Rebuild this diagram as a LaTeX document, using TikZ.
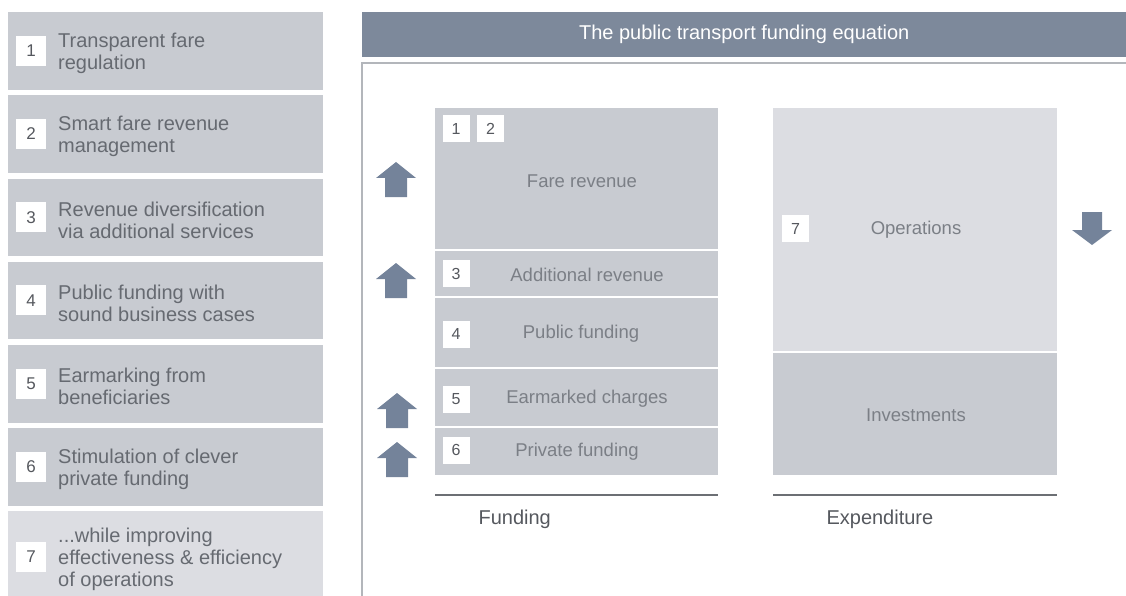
\documentclass[tikz,border=0pt]{standalone}
\usepackage{fontspec}
\setmainfont{Liberation Sans}

\definecolor{boxgray}{HTML}{C8CBD1}
\definecolor{boxlight}{HTML}{DCDDE2}
\definecolor{headblue}{HTML}{7D899B}
\definecolor{arrowblue}{HTML}{74839A}
\definecolor{textgray}{HTML}{666A71}
\definecolor{labelgray}{HTML}{7B7F86}
\definecolor{numgray}{HTML}{55585E}
\definecolor{basegray}{HTML}{6C6F74}
\definecolor{framegray}{HTML}{B3B6BB}

\begin{document}
\begin{tikzpicture}[x=1pt,y=-1pt,
  card/.style={fill=boxgray, inner sep=0pt, minimum width=315pt, minimum height=77.5pt, anchor=north west},
  cardtext/.style={anchor=west, align=left, inner sep=0pt, text=textgray, font=\fontsize{20}{22}\selectfont},
  tag/.style={fill=white, inner sep=0pt, minimum size=30pt, text=numgray, font=\fontsize{17}{17}\selectfont},
  smalltag/.style={tag, minimum size=27pt, font=\fontsize{16}{16}\selectfont},
  block/.style={fill=boxgray, inner sep=0pt, anchor=north west},
  blocktext/.style={text=labelgray, font=\fontsize{18.5}{18.5}\selectfont},
  axislabel/.style={anchor=west, text=numgray, font=\fontsize{20}{20}\selectfont}]
  \useasboundingbox (0,0) rectangle (1126,596);

  % Left column: the seven levers
  \node[card] (c1) at (8,12) {};
  \node[card] (c2) at (8,95.2) {};
  \node[card] (c3) at (8,178.4) {};
  \node[card] (c4) at (8,261.6) {};
  \node[card] (c5) at (8,344.8) {};
  \node[card] (c6) at (8,428) {};
  \node[card, fill=boxlight, minimum height=85pt] (c7) at (8,511.2) {};

  \node[tag] (n1) at (31,50.75) {1};
  \node[tag] (n2) at (31,134) {2};
  \node[tag] (n3) at (31,217.2) {3};
  \node[tag] (n4) at (31,300.4) {4};
  \node[tag] (n5) at (31,383.6) {5};
  \node[tag] (n6) at (31,466.8) {6};
  \node[tag] (n7) at (31,557) {7};

  \node[cardtext] (t1) at (58,53.5) {Transparent fare\\regulation};
  \node[cardtext] (t2) at (58,136.7) {Smart fare revenue\\management};
  \node[cardtext] (t3) at (58,219.9) {Revenue diversification\\via additional services};
  \node[cardtext] (t4) at (58,303.1) {Public funding with\\sound business cases};
  \node[cardtext] (t5) at (58,386.3) {Earmarking from\\beneficiaries};
  \node[cardtext] (t6) at (58,469.5) {Stimulation of clever\\private funding};
  \node[cardtext] (t7) at (58,559) {...while improving\\effectiveness \& efficiency\\of operations};

  % Header and panel frame
  \node[fill=headblue, inner sep=0pt, minimum width=764pt, minimum height=45pt, anchor=north west,
        text=white, font=\fontsize{20}{20}\selectfont] (head) at (362,12) {The public transport funding equation};
  \draw[framegray, line width=1.5pt] (1126,63) -- (362,63) -- (362,596);

  % Funding stack
  \node[block, minimum width=283pt, minimum height=141pt] (fare) at (435,108) {};
  \node[block, minimum width=283pt, minimum height=45pt] (addrev) at (435,251) {};
  \node[block, minimum width=283pt, minimum height=69pt] (pubfund) at (435,298) {};
  \node[block, minimum width=283pt, minimum height=57pt] (earmark) at (435,369) {};
  \node[block, minimum width=283pt, minimum height=47pt] (privfund) at (435,428) {};

  \node[smalltag] (s1) at (456,128.5) {1};
  \node[smalltag] (s2) at (490.5,128.5) {2};
  \node[smalltag] (s3) at (456,273.5) {3};
  \node[smalltag] (s4) at (456,334) {4};
  \node[smalltag] (s5) at (456,399) {5};
  \node[smalltag] (s6) at (456,450) {6};

  \node[blocktext] (fareL) at (582,181) {Fare revenue};
  \node[blocktext] (addrevL) at (587,275) {Additional revenue};
  \node[blocktext] (pubfundL) at (581,334) {Public funding};
  \node[blocktext] (earmarkL) at (587,399) {Earmarked charges};
  \node[blocktext] (privfundL) at (577,452) {Private funding};

  % Expenditure stack
  \node[block, fill=boxlight, minimum width=284pt, minimum height=243pt] (ops) at (773,108) {};
  \node[block, minimum width=284pt, minimum height=122pt] (invest) at (773,353) {};
  \node[smalltag] (s7) at (795.5,228.5) {7};
  \node[blocktext] (opsL) at (916,230) {Operations};
  \node[blocktext] (investL) at (916,415) {Investments};

  % Base lines and captions
  \draw[basegray, line width=2pt] (435,495) -- (718,495);
  \draw[basegray, line width=2pt] (773,495) -- (1057,495);
  \node[axislabel] (fundL) at (475,519) {Funding};
  \node[axislabel] (expL) at (823,519) {Expenditure};

  % Up and down arrows
  \fill[arrowblue] (396,162) -- ++(20,16) -- ++(-9,0) -- ++(0,19) -- ++(-22,0) -- ++(0,-19) -- ++(-9,0) -- cycle;
  \fill[arrowblue] (396,263) -- ++(20,16) -- ++(-9,0) -- ++(0,19) -- ++(-22,0) -- ++(0,-19) -- ++(-9,0) -- cycle;
  \fill[arrowblue] (397,393) -- ++(20,16) -- ++(-9,0) -- ++(0,19) -- ++(-22,0) -- ++(0,-19) -- ++(-9,0) -- cycle;
  \fill[arrowblue] (397,442) -- ++(20,16) -- ++(-9,0) -- ++(0,19) -- ++(-22,0) -- ++(0,-19) -- ++(-9,0) -- cycle;
  \fill[arrowblue] (1092,245) -- ++(20,-15) -- ++(-10,0) -- ++(0,-18) -- ++(-20,0) -- ++(0,18) -- ++(-10,0) -- cycle;
\end{tikzpicture}
\end{document}
